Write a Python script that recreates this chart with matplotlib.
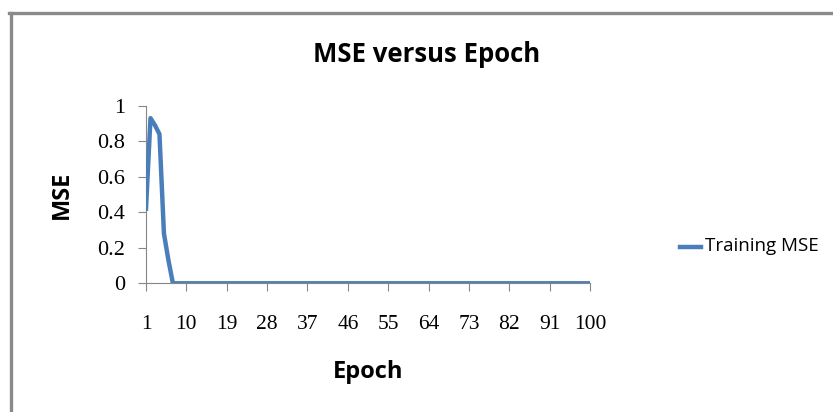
import numpy as np
import matplotlib
matplotlib.use("Agg")
import matplotlib.pyplot as plt
from matplotlib.lines import Line2D

# Data
epochs = np.arange(1, 101)
mse_head = [0.42, 0.93, 0.89, 0.84, 0.28, 0.13, 0.0]
mse = np.array(mse_head + [0.0] * (len(epochs) - len(mse_head)))
xtick_labels = list(range(1, 101, 9))
ytick_values = [0, 0.2, 0.4, 0.6, 0.8, 1]
series_name = "Training MSE"

W, H = 833, 412
fig = plt.figure(figsize=(W / 100, H / 100), dpi=100)
fig.patch.set_facecolor("white")

# outer gray frame (only left and top are visible in the crop)
fig.add_artist(Line2D([10.5 / W, 10.5 / W], [0, 1 - 13 / H], color="#8a8a8a", lw=2.4,
                      transform=fig.transFigure))
fig.add_artist(Line2D([9 / W, 1], [1 - 13 / H, 1 - 13 / H], color="#8a8a8a", lw=2.4,
                      transform=fig.transFigure))

# plot area in pixels: x 146..590, y 105.7..283.3
left, right, top, bottom = 146, 590, 105.7, 283.3
ax = fig.add_axes([left / W, 1 - bottom / H, (right - left) / W, (bottom - top) / H])
ax.plot(epochs, mse, color="#4a7ebb", lw=3.2, solid_joinstyle="round")
ax.set_xlim(1, 100)
ax.set_ylim(0, 1)

for s in ["top", "right"]:
    ax.spines[s].set_visible(False)
ax.spines["left"].set_color("#868686")
ax.spines["bottom"].set_color("#868686")
ax.spines["left"].set_zorder(0)

serif = ["Liberation Serif", "DejaVu Serif"]
ax.set_yticks(ytick_values)
ax.set_yticklabels(["0", "0.2", "0.4", "0.6", "0.8", "1"], fontsize=16, family=serif)
ax.set_xticks(xtick_labels)
ax.set_xticklabels([str(v) for v in xtick_labels], fontsize=15.5, family=serif)
ax.tick_params(axis="y", length=6, color="#868686", pad=9, direction="out")
ax.tick_params(axis="x", length=6, color="#868686", pad=17, direction="out")

sans = ["Open Sans", "DejaVu Sans"]
fig.text(427 / W, 1 - 55 / H, "MSE versus Epoch", ha="center", va="center",
         fontsize=18.5, fontweight="bold", family=sans)
fig.text(62 / W, 1 - 195 / H, "MSE", ha="center", va="center", rotation=90,
         fontsize=17, fontweight="bold", family=sans)
fig.text(368 / W, 1 - 372 / H, "Epoch", ha="center", va="center",
         fontsize=17, fontweight="bold", family=sans)

# legend
fig.add_artist(Line2D([680 / W, 701 / W], [1 - 247 / H, 1 - 247 / H], color="#4a7ebb",
                      lw=3.2, transform=fig.transFigure))
fig.text(705 / W, 1 - 246 / H, series_name, ha="left", va="center",
         fontsize=13.5, family=sans)

fig.savefig("out.png", dpi=100)
